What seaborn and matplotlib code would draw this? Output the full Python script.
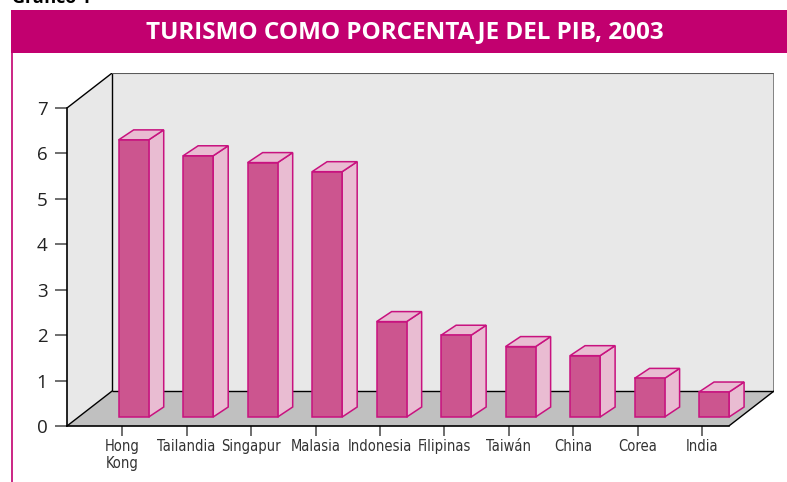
import matplotlib
matplotlib.use("Agg")
import matplotlib.pyplot as plt
from matplotlib import font_manager
from matplotlib.patches import Polygon, Rectangle
from matplotlib.lines import Line2D
import seaborn as sns

# Tourism as a share of GDP, 2003 (%)
paises = ["Hong Kong", "Tailandia", "Singapur", "Malasia", "Indonesia",
          "Filipinas", "Taiwán", "China", "Corea", "India"]
valores = [6.1, 5.75, 5.6, 5.4, 2.1, 1.8, 1.55, 1.35, 0.85, 0.55]
etiquetas = ["Hong\nKong", "Tailandia", "Singapur", "Malasia", "Indonesia",
             "Filipinas", "Taiwán", "China", "Corea", "India"]
ticks_y = [0, 1, 2, 3, 4, 5, 6, 7]
titulo = "TURISMO COMO PORCENTAJE DEL PIB, 2003"

# Colours
MAGENTA = "#c2006f"
FRONT = "#cc558f"
SIDE = "#e9bcd2"
EDGE = "#c8127f"
WALL = "#e8e8e8"
FLOOR = "#c0c0c0"

# Pseudo-3D geometry in data units (x: category, y: value)
X_LEFT = -0.854          # front-left corner of the box
X_RIGHT_FRONT = 9.41     # front-right corner of the floor
DEPTH_X = 0.70           # box depth, horizontal component
DEPTH_Y = 0.77           # box depth, vertical component
Y_MAX = 7
BAR_W = 0.466
BAR_DX, BAR_DY = 0.18, 0.198    # where the bar front faces sit inside the box
BAR_DEPTH_X, BAR_DEPTH_Y = 0.233, 0.22

sns.set_style("white")
plt.rcParams["font.family"] = ["Open Sans", "DejaVu Sans"]

# A narrow face for the category labels, if one is available
fonts = font_manager.fontManager.ttflist
narrow = None
for f in fonts:
    if f.name == "Liberation Sans Narrow":
        narrow = dict(family=["Liberation Sans Narrow", "DejaVu Sans"], fontsize=11.5)
        break
if narrow is None:
    for f in fonts:
        if f.name == "DejaVu Sans" and str(f.stretch) in ("condensed", "semi-condensed") \
                and f.weight in (400, "normal"):
            narrow = dict(family=["DejaVu Sans"], fontstretch="condensed", fontsize=10.5)
            break
if narrow is None:
    narrow = dict(family=["Lato", "DejaVu Sans"], fontsize=10.5)

fig = plt.figure(figsize=(7.87, 4.82), dpi=100)
W, H = 787, 482
ax = fig.add_axes([67 / W, 1 - 426 / H, (774 - 67) / W, (426 - 73) / H])

sns.barplot(x=paises, y=valores, ax=ax, color=FRONT, saturation=1,
            width=BAR_W, edgecolor=EDGE, linewidth=1.1, zorder=3)
bars = list(ax.patches)

ax.set_xlim(X_LEFT, X_RIGHT_FRONT + DEPTH_X)
ax.set_ylim(0, Y_MAX + DEPTH_Y)
ax.set_xlabel("")
ax.set_ylabel("")

# Box: left wall, back wall and floor
left_wall = Polygon([(X_LEFT, 0), (X_LEFT, Y_MAX),
                     (X_LEFT + DEPTH_X, Y_MAX + DEPTH_Y), (X_LEFT + DEPTH_X, DEPTH_Y)],
                    closed=True, facecolor=WALL, edgecolor="none", zorder=0.5)
back_wall = Rectangle((X_LEFT + DEPTH_X, DEPTH_Y), X_RIGHT_FRONT - X_LEFT, Y_MAX,
                      facecolor=WALL, edgecolor="none", zorder=0.5)
floor = Polygon([(X_LEFT, 0), (X_LEFT + DEPTH_X, DEPTH_Y),
                 (X_RIGHT_FRONT + DEPTH_X, DEPTH_Y), (X_RIGHT_FRONT, 0)],
                closed=True, facecolor=FLOOR, edgecolor="none", zorder=0.6)
for p in (left_wall, back_wall, floor):
    ax.add_patch(p)

xb0, xb1 = X_LEFT + DEPTH_X, X_RIGHT_FRONT + DEPTH_X
yb0, yb1 = DEPTH_Y, Y_MAX + DEPTH_Y
box_lines = [
    ([X_LEFT, xb0], [Y_MAX, yb1], "black", 1.0),
    ([X_LEFT, xb0], [0, yb0], "black", 1.0),
    ([xb0, xb0], [yb0, yb1], "black", 1.0),
    ([xb0, xb1], [yb1, yb1], "#5a5a5a", 1.5),
    ([xb1, xb1], [yb0, yb1], "#7a7a7a", 2.0),
    ([xb0, xb1], [yb0, yb0], "black", 1.0),
    ([X_RIGHT_FRONT, xb1], [0, yb0], "black", 1.0),
]
for xs, ys, c, lw in box_lines:
    ax.add_line(Line2D(xs, ys, color=c, linewidth=lw, zorder=1,
                       solid_capstyle="butt"))

# Move the bar fronts into the box and add their side and top faces
for bar in bars:
    bar.set_x(bar.get_x() + BAR_DX)
    bar.set_y(BAR_DY)
    x0, y0 = bar.get_x(), bar.get_y()
    w, h = bar.get_width(), bar.get_height()
    side = Polygon([(x0 + w, y0), (x0 + w + BAR_DEPTH_X, y0 + BAR_DEPTH_Y),
                    (x0 + w + BAR_DEPTH_X, y0 + h + BAR_DEPTH_Y), (x0 + w, y0 + h)],
                   closed=True, facecolor=SIDE, edgecolor=EDGE, linewidth=1.1,
                   zorder=2.9, joinstyle="miter")
    top = Polygon([(x0, y0 + h), (x0 + BAR_DEPTH_X, y0 + h + BAR_DEPTH_Y),
                   (x0 + w + BAR_DEPTH_X, y0 + h + BAR_DEPTH_Y), (x0 + w, y0 + h)],
                  closed=True, facecolor=SIDE, edgecolor=EDGE, linewidth=1.1,
                  zorder=2.9, joinstyle="miter")
    ax.add_patch(side)
    ax.add_patch(top)

# Axes
for s in ("top", "right"):
    ax.spines[s].set_visible(False)
ax.spines["left"].set_bounds(0, Y_MAX)
ax.spines["bottom"].set_bounds(X_LEFT, X_RIGHT_FRONT)
for s in ("left", "bottom"):
    ax.spines[s].set_color("black")
    ax.spines[s].set_linewidth(1.2)
    ax.spines[s].set_zorder(1.2)

ax.set_yticks(ticks_y)
ax.set_yticklabels([str(t) for t in ticks_y])
ax.set_xticks(range(len(paises)))
ax.set_xticklabels(etiquetas, linespacing=1.1, color="#333333", **narrow)
ax.tick_params(axis="y", which="both", left=True, length=8.6, width=1.2,
               color="#555555", pad=5.5, labelsize=13.5, labelcolor="#222222")
ax.tick_params(axis="x", which="both", bottom=True, length=7.2, width=1.2,
               color="#555555", pad=2.5)

# Header bar, frame line and caption
fig.add_artist(Rectangle((11 / W, 1 - 53 / H), 1 - 11 / W, 43 / H,
                         transform=fig.transFigure, facecolor=MAGENTA,
                         edgecolor="none", zorder=0))
fig.add_artist(Line2D([11.5 / W, 11.5 / W], [0, 1 - 53 / H],
                      transform=fig.transFigure, color=MAGENTA, linewidth=1.2))
fig.text(405 / W, 1 - 32 / H, titulo, color="white", fontsize=17.5,
         fontweight="bold", ha="center", va="center")
fig.text(12 / W, 1 - 7 / H, "Gráfico 1", color="black", fontsize=13,
         fontweight="bold", ha="left", va="bottom")

fig.savefig("out.png", dpi=100)
